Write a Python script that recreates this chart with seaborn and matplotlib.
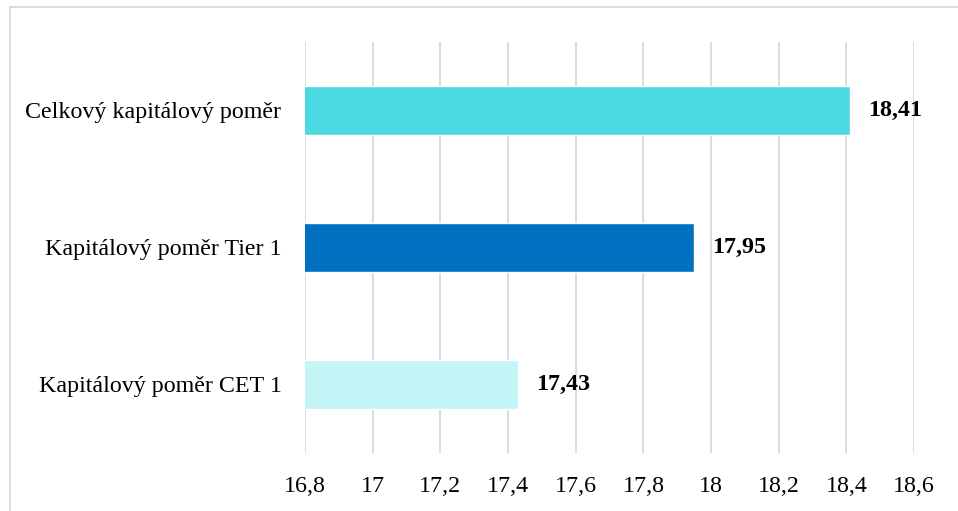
import matplotlib
matplotlib.use("Agg")
import matplotlib.pyplot as plt
from matplotlib.patches import Rectangle
from matplotlib.ticker import FixedLocator, FuncFormatter
import seaborn as sns
import pandas as pd

# Capital ratios (%)
categories = ["Celkový kapitálový poměr", "Kapitálový poměr Tier 1", "Kapitálový poměr CET 1"]
values = [18.41, 17.95, 17.43]
bar_colors = ["#4BD9E2", "#0070C0", "#C3F5F6"]
x_ticks = [16.8, 17.0, 17.2, 17.4, 17.6, 17.8, 18.0, 18.2, 18.4, 18.6]

df = pd.DataFrame({"kategorie": categories, "hodnota": values})

sns.set_theme(style="white")
plt.rcParams["font.family"] = ["Liberation Serif", "DejaVu Serif"]

FS = 17.3

fig = plt.figure(figsize=(9.58, 5.11), dpi=100)
ax = fig.add_axes([0.3184, 0.1135, 0.9541 - 0.3184, 0.9184 - 0.1135])

sns.barplot(data=df, x="hodnota", y="kategorie", hue="kategorie",
            palette=bar_colors, order=categories, hue_order=categories,
            orient="h", width=0.355, legend=False, ax=ax, saturation=1)

ax.set_xlim(16.8, 18.6)
ax.set_ylim(2.5, -0.5)
ax.xaxis.set_major_locator(FixedLocator(x_ticks))
ax.xaxis.set_major_formatter(FuncFormatter(lambda v, p: f"{v:g}".replace(".", ",")))
ax.grid(axis="x", color="#d9d9d9", linewidth=1.3)
ax.grid(axis="y", visible=False)
ax.set_axisbelow(True)
for s in ax.spines.values():
    s.set_visible(False)
ax.set_xlabel("")
ax.set_ylabel("")
ax.tick_params(axis="x", length=0, pad=28, labelsize=FS, labelcolor="#000000")
ax.tick_params(axis="y", length=0, pad=17, labelsize=FS, labelcolor="#000000")
for lbl in ax.get_xticklabels():
    lbl.set_verticalalignment("baseline")

# Value labels next to bar ends
for container in ax.containers:
    ax.bar_label(container, labels=[f"{v:.2f}".replace(".", ",") for v in container.datavalues],
                 padding=13, fontsize=FS, fontweight="bold", color="#000000")

# Chart area border
fig.patches.append(Rectangle((10 / 958, -0.1), 1.2, 1 - 6.7 / 511 + 0.1,
                             transform=fig.transFigure, fill=False,
                             edgecolor="#d9d9d9", linewidth=1.3))

fig.savefig("out.png", dpi=100, facecolor="white")
